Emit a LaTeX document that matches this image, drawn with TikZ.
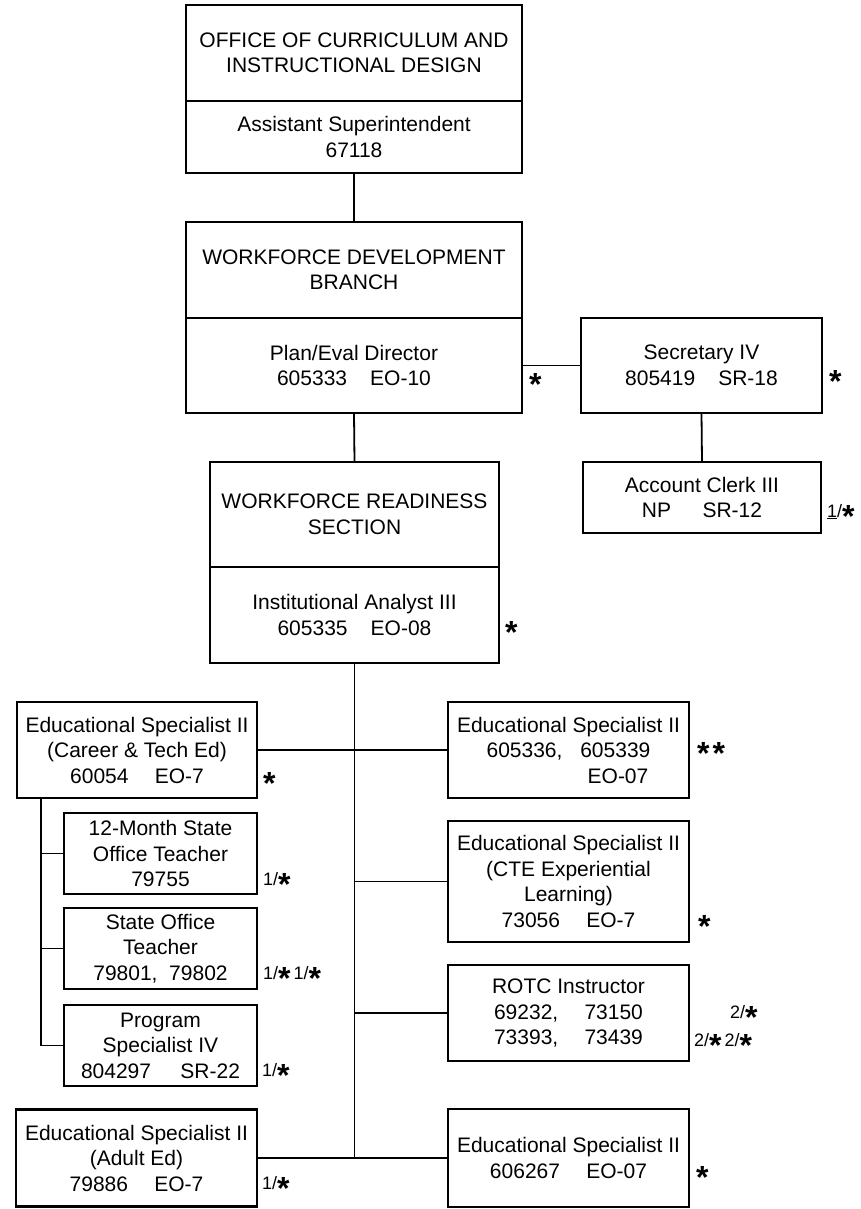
\documentclass[tikz,border=0pt]{standalone}
\usepackage{fontspec}
\setmainfont{Liberation Sans}
\definecolor{ink}{HTML}{000000}
\usetikzlibrary{positioning}
\newcommand{\boxfont}{\fontsize{21}{25.5}\selectfont}
\newcommand{\notefont}{\fontsize{18}{18}\selectfont}
\newcommand{\st}{{\fontsize{32}{32}\selectfont\bfseries\raisebox{-0.33em}[0.4em][0pt]{*}}}
\tikzset{
  unit/.style={draw=ink,line width=2.5pt,fill=white,inner sep=0pt,outer sep=0pt,
               align=center,font=\boxfont,text=ink},
  link/.style={draw=ink,line width=1.8pt},
  note/.style={anchor=base west,inner sep=0pt,font=\notefont,text=ink}
}

\begin{document}
\begin{tikzpicture}[x=1pt,y=-1pt]
  \useasboundingbox (0,0) rectangle (860,1209);

  % office and branch
  \node[unit,minimum width=336pt,minimum height=96pt] (ocid) at (354,53)
    {OFFICE OF CURRICULUM AND\\INSTRUCTIONAL DESIGN};
  \node[unit,minimum width=336pt,minimum height=72pt,below=0pt of ocid] (ocidsup)
    {Assistant Superintendent\\67118};
  \node[unit,minimum width=336pt,minimum height=96pt] (wdb) at (354,270)
    {WORKFORCE DEVELOPMENT\\BRANCH};
  \node[unit,minimum width=336pt,minimum height=95pt,below=0pt of wdb] (wdbdir)
    {Plan/Eval Director\\605333\hspace{1.1em}EO-10};
  \node[unit,minimum width=241pt,minimum height=95pt] (sec) at (701.5,365.5)
    {Secretary IV\\805419\hspace{1.1em}SR-18};
  \node[unit,minimum width=238pt,minimum height=71pt] (clerk) at (702,497.5)
    {Account Clerk III\\NP\hspace{1.5em}SR-12};

  % section
  \node[unit,minimum width=289pt,minimum height=105pt] (wrs) at (354.5,514.5)
    {WORKFORCE READINESS\\SECTION};
  \node[unit,minimum width=289pt,minimum height=96pt,below=0pt of wrs] (wrsana)
    {Institutional Analyst III\\605335\hspace{1.1em}EO-08};

  % left column
  \node[unit,minimum width=240pt,minimum height=96pt] (career) at (137,750)
    {Educational Specialist II\\(Career \& Tech Ed)\\60054\hspace{1.25em}EO-7};
  \node[unit,minimum width=193pt,minimum height=81pt] (month) at (160.5,853.5)
    {12-Month State\\Office Teacher\\79755};
  \node[unit,minimum width=193pt,minimum height=81pt] (state) at (160.5,948.5)
    {State Office\\Teacher\\79801,\ \ 79802};
  \node[unit,minimum width=193pt,minimum height=81pt] (prog) at (160.5,1045.5)
    {Program\\Specialist IV\\804297\hspace{1.4em}SR-22};
  \node[unit,minimum width=241pt,minimum height=97pt] (adult) at (136.5,1158)
    {Educational Specialist II\\(Adult Ed)\\79886\hspace{1.25em}EO-7};

  % right column
  \node[unit,minimum width=241pt,minimum height=96pt] (esgen) at (568.5,750)
    {Educational Specialist II\\605336,\hspace{0.85em}605339\\\hspace*{99pt}EO-07};
  \node[unit,minimum width=241pt,minimum height=121pt] (cte) at (568.5,881.5)
    {Educational Specialist II\\(CTE Experiential\\Learning)\\73056\hspace{1.25em}EO-7};
  \node[unit,minimum width=241pt,minimum height=96pt] (rotc) at (568.5,1013)
    {ROTC Instructor\\69232,\hspace{1.25em}73150\\73393,\hspace{1.25em}73439};
  \node[unit,minimum width=241pt,minimum height=98pt] (esadult) at (568.5,1158)
    {Educational Specialist II\\606267\hspace{1.25em}EO-07};

  % connectors
  \draw[link] (ocidsup.south) -- (wdb.north);
  \draw[link] (wdbdir.east) -- (sec.west);
  \draw[link] (sec.south) -- (clerk.north);
  \draw[link] (wdbdir.south) -- (wrs.north);
  \draw[link] (wrsana.south) -- (wrsana.south |- adult.east);
  \draw[link] (career.east) -- (esgen.west);
  \foreach \n in {cte,rotc}
    \draw[link] (wrsana.south |- \n.west) -- (\n.west);
  \draw[link] (adult.east) -- (esadult.west);
  \foreach \n in {month,state,prog}
    \draw[link] ([xshift=24pt]career.south west) |- (\n.west);

  % notes
  \node[note] (wdbnote) at (529,385) {\st};
  \node[note] (secnote) at (829,382) {\st};
  \node[note] (clerknote) at (827,517) {\underline{1}/\st};
  \node[note] (wrsnote) at (505,633) {\st};
  \node[note] (careernote) at (263,784) {\st};
  \node[note] (monthnote) at (263,885) {1/\st};
  \node[note] (statenote) at (263,979) {1/\st\,1/\st};
  \node[note] (prognote) at (262,1076) {1/\st};
  \node[note] (adultnote) at (262,1189) {1/\st};
  \node[note] (esgennote) at (697,754) {\st\,\st};
  \node[note] (ctenote) at (698,927) {\st};
  \node[note] (rotcnote) at (730,1018) {2/\st};
  \node[note] (rotcnoteb) at (694,1046) {2/\st\,2/\st};
  \node[note] (esadultnote) at (696,1178) {\st};
\end{tikzpicture}
\end{document}
